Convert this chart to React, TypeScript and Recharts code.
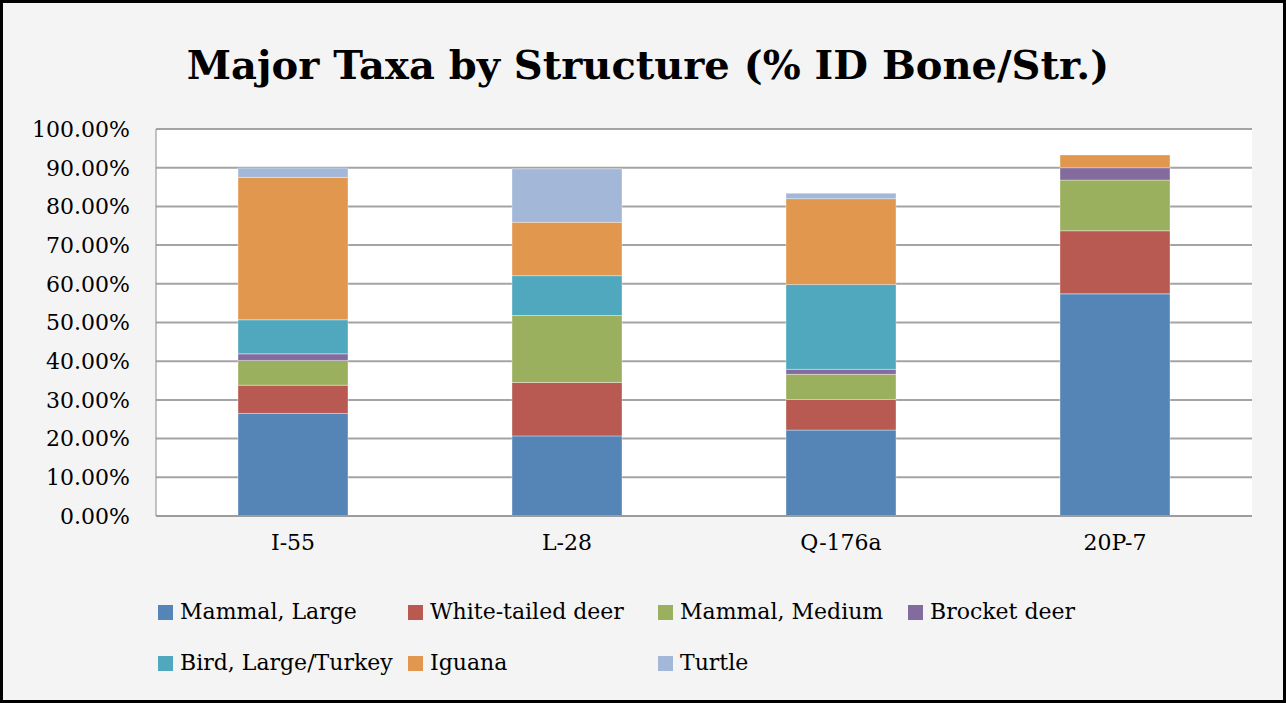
import { BarChart, Bar, XAxis, YAxis, CartesianGrid } from "recharts";

// structures along the x axis
const structures = ["I-55", "L-28", "Q-176a", "20P-7"];

// % of identified bone per structure
const mammalLarge = [26.5, 20.7, 22.2, 57.4];
const whiteTailedDeer = [7.3, 13.8, 7.9, 16.3];
const mammalMedium = [6.4, 17.3, 6.5, 13.1];
const brocketDeer = [1.7, 0, 1.3, 3.2];
const birdLargeTurkey = [8.8, 10.3, 21.9, 0];
const iguana = [36.8, 13.8, 22.2, 3.3];
const turtle = [2.4, 13.8, 1.4, 0];

const yTicks = [0, 10, 20, 30, 40, 50, 60, 70, 80, 90, 100];

const series = [
    { key: "mammalLarge", name: "Mammal, Large", color: "#5585b6", values: mammalLarge },
    { key: "whiteTailedDeer", name: "White-tailed deer", color: "#b95a52", values: whiteTailedDeer },
    { key: "mammalMedium", name: "Mammal, Medium", color: "#9bb05e", values: mammalMedium },
    { key: "brocketDeer", name: "Brocket deer", color: "#846b9e", values: brocketDeer },
    { key: "birdLargeTurkey", name: "Bird, Large/Turkey", color: "#4fa8bd", values: birdLargeTurkey },
    { key: "iguana", name: "Iguana", color: "#e2974e", values: iguana },
    { key: "turtle", name: "Turtle", color: "#a3b7d9", values: turtle },
];

const data = structures.map((s, i) => {
    const row: Record<string, string | number> = { structure: s };
    series.forEach((se) => {
        row[se.key] = se.values[i];
    });
    return row;
});

const font = "'DejaVu Serif', serif";

const App = () => {
    return (
        <div style={{ position: "absolute", left: 0, top: 0, width: 1286, height: 703, background: "#f4f4f4", fontFamily: font }}>
            {/* title */}
            <div style={{ position: "absolute", left: 0, width: 1296, top: 37, textAlign: "center", fontSize: 40, fontWeight: "bold", color: "#000", lineHeight: "56px" }}>
                Major Taxa by Structure (% ID Bone/Str.)
            </div>

            <div style={{ position: "absolute", left: 0, top: 0 }}>
                <BarChart
                    width={1286}
                    height={703}
                    data={data}
                    margin={{ top: 129, right: 34, left: 0, bottom: 127 }}
                    barSize={110}
                >
                    <CartesianGrid vertical={false} stroke="#a4a4a4" strokeWidth={2} fill="#ffffff" fillOpacity={1} />
                    <XAxis
                        dataKey="structure"
                        height={60}
                        tickSize={0}
                        tickMargin={18}
                        axisLine={{ stroke: "#9c9c9c", strokeWidth: 2 }}
                        tick={{ fill: "#000", fontSize: 22, fontFamily: font }}
                    />
                    <YAxis
                        width={156}
                        domain={[0, 100]}
                        ticks={yTicks}
                        interval={0}
                        tickSize={0}
                        tickMargin={26}
                        axisLine={{ stroke: "#8c8c8c", strokeWidth: 1 }}
                        tickFormatter={(v: number) => `${v.toFixed(2)}%`}
                        tick={{ fill: "#000", fontSize: 22, fontFamily: font }}
                    />
                    {series.map((se) => (
                        <Bar
                            key={se.key}
                            dataKey={se.key}
                            name={se.name}
                            stackId="taxa"
                            fill={se.color}
                            stroke="rgba(255,255,255,0.35)"
                            strokeWidth={1}
                            isAnimationActive={false}
                        />
                    ))}
                </BarChart>
            </div>

            {/* legend: two rows, four columns */}
            {series.map((se, i) => {
                const col = i < 4 ? i : i - 4;
                const row = i < 4 ? 0 : 1;
                return (
                    <div
                        key={se.key}
                        style={{ position: "absolute", left: 158 + col * 250, top: 597 + row * 51, display: "flex", alignItems: "center", fontSize: 22, color: "#000", lineHeight: "30px", whiteSpace: "nowrap" }}
                    >
                        <span style={{ display: "inline-block", width: 15, height: 15, background: se.color, marginRight: 7 }} />
                        {se.name}
                    </div>
                );
            })}

            {/* outer frame */}
            <div style={{ position: "absolute", left: 0, top: 0, width: 1286, height: 703, boxSizing: "border-box", border: "3px solid #000", pointerEvents: "none" }} />
        </div>
    );
};

export default App;
